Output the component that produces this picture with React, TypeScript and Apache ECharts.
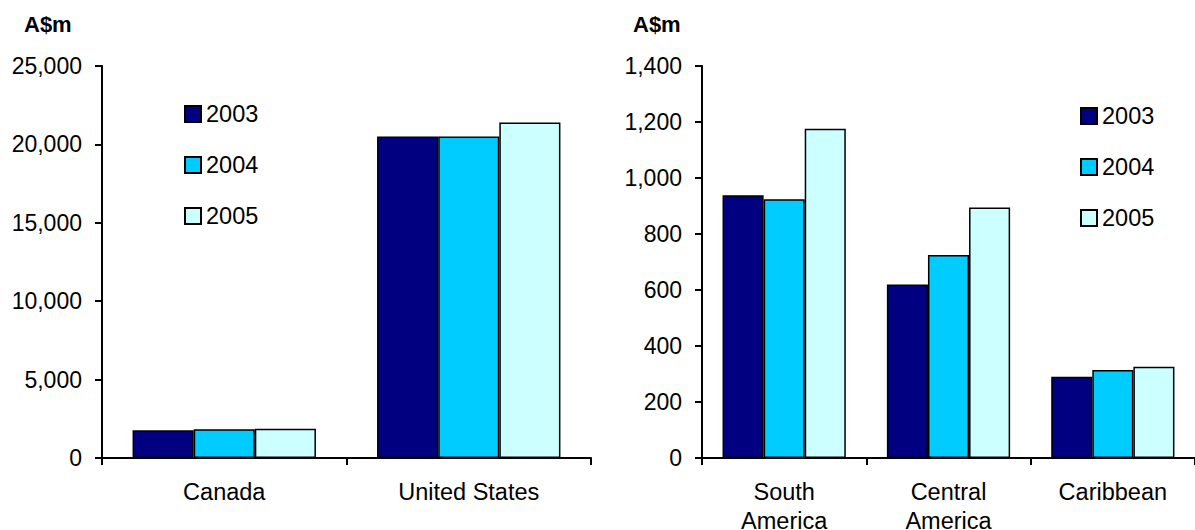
import React, { useEffect, useRef } from "react";
import * as echarts from "echarts";

const years = ["2003", "2004", "2005"];
const colors = ["#000080", "#00CCFF", "#CCFFFF"];

const leftCategories = ["Canada", "United States"];
const left2003 = [1770, 20500];
const left2004 = [1830, 20500];
const left2005 = [1860, 21400];

const rightCategories = ["South\nAmerica", "Central\nAmerica", "Caribbean"];
const right2003 = [938, 620, 290];
const right2004 = [924, 725, 314];
const right2005 = [1176, 895, 326];

const leftTicks = { min: 0, max: 25000, interval: 5000 };
const rightTicks = { min: 0, max: 1400, interval: 200 };

const FONT = "Arial, 'Liberation Sans', sans-serif";

export default function App() {
  const ref = useRef<HTMLDivElement>(null);
  useEffect(() => {
    document.body.style.margin = "0";
    if (!ref.current) return;
    const chart = echarts.init(ref.current, null, { renderer: "svg" });
    const axisLine = { show: true, lineStyle: { color: "#000", width: 2 } };
    const axisTick = { show: true, length: 7, lineStyle: { color: "#000", width: 2 } };
    const fmt = (v: number) => v.toLocaleString("en-US");
    const yAxisCommon = {
      type: "value" as const,
      axisLine,
      axisTick: { ...axisTick, inside: false },
      splitLine: { show: false },
      axisLabel: { color: "#000", fontSize: 23, fontFamily: FONT, margin: 20, formatter: fmt },
    };
    const xAxisCommon = {
      type: "category" as const,
      axisLine,
      axisTick,
      axisLabel: { color: "#000", fontSize: 23.5, fontFamily: FONT, margin: 19, lineHeight: 29, interval: 0 },
    };
    const leftData = [left2003, left2004, left2005];
    const rightData = [right2003, right2004, right2005];
    const mkSeries = (data: number[][], idx: number) =>
      years.map((y, i) => ({
        name: y,
        type: "bar" as const,
        xAxisIndex: idx,
        yAxisIndex: idx,
        data: data[i],
        barGap: "0%",
        barCategoryGap: "25%",
        itemStyle: { color: colors[i], borderColor: "#000", borderWidth: 1.5 },
      }));
    const legendCommon = {
      orient: "vertical" as const,
      data: years,
      padding: 0,
      itemWidth: 16,
      itemHeight: 16,
      itemGap: 27,
      itemTextGap: 5,
      icon: "rect",
      selectedMode: false,
      textStyle: { color: "#000", fontSize: 23.5, fontFamily: FONT, lineHeight: 23 },
    };
    chart.setOption({
      animation: false,
      backgroundColor: "#fff",
      grid: [
        { left: 102, top: 66, width: 489, height: 392, outerBoundsMode: "none", containLabel: false },
        { left: 702, top: 66, width: 493, height: 392, outerBoundsMode: "none", containLabel: false },
      ],
      xAxis: [
        { ...xAxisCommon, gridIndex: 0, data: leftCategories },
        { ...xAxisCommon, gridIndex: 1, data: rightCategories },
      ],
      yAxis: [
        { ...yAxisCommon, gridIndex: 0, ...leftTicks },
        { ...yAxisCommon, gridIndex: 1, ...rightTicks },
      ],
      legend: [
        { ...legendCommon, left: 184, top: 102 },
        { ...legendCommon, left: 1080, top: 104 },
      ],
      graphic: [
        { type: "text", left: 24, top: 13, style: { text: "A$m", fontSize: 22, fontWeight: "bold", fontFamily: FONT, fill: "#000" } },
        { type: "text", left: 633, top: 13, style: { text: "A$m", fontSize: 22, fontWeight: "bold", fontFamily: FONT, fill: "#000" } },
      ],
      series: [...mkSeries(leftData, 0), ...mkSeries(rightData, 1)],
    });
    return () => chart.dispose();
  }, []);
  return <div ref={ref} style={{ width: 1195, height: 530 }} />;
}
